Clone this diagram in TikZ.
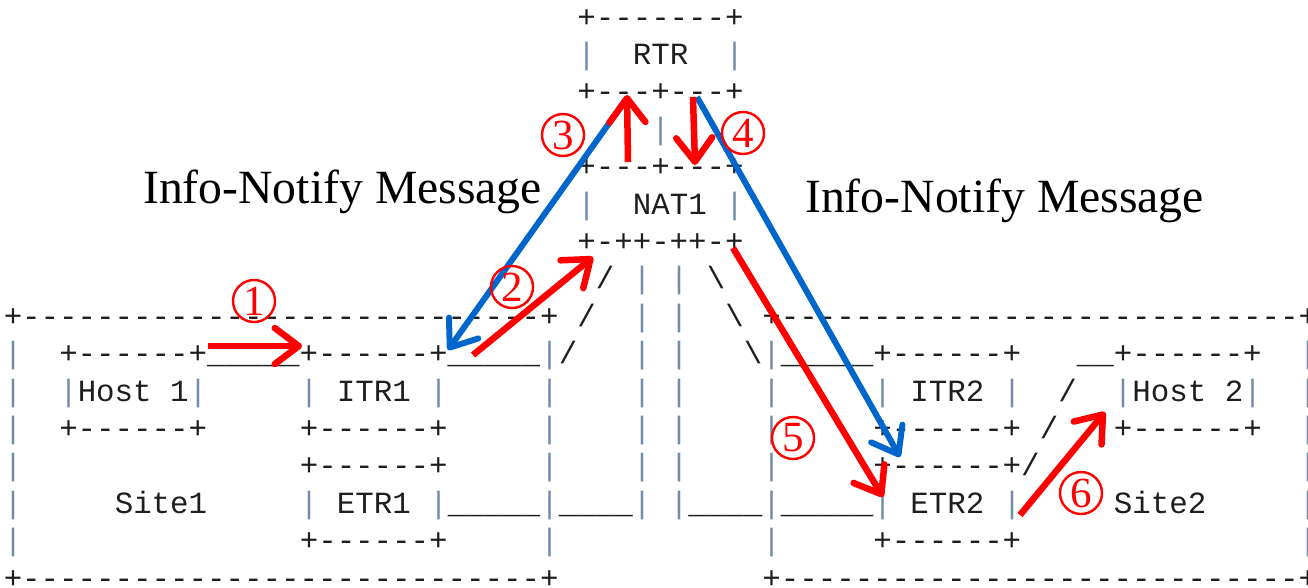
\documentclass[tikz,border=0pt]{standalone}
\usepackage{fontspec}
\setmainfont{Liberation Serif}
\setmonofont{Liberation Mono}
\usetikzlibrary{arrows.meta}
\definecolor{asciigray}{RGB}{30,30,30}
\definecolor{barcol}{RGB}{115,140,170}
\definecolor{arrred}{RGB}{255,0,0}
\definecolor{arrblue}{RGB}{0,102,204}
\newcommand\B{{\color{barcol}|}}
\newcommand\ascfont{\fontsize{30.83}{37}\selectfont\ttfamily}
\newcommand\asc[3]{\node[asc, name=a#1x#2] at ({13+18.5*#2-9.25},{17+37.4*(#1-1)+10}) {#3};}
\newcommand\dashes{----------------------------}
\tikzset{
  asc/.style={anchor=base west, inner sep=0pt, outer sep=0pt, font=\ascfont, text=asciigray},
  redarrow/.style={draw=arrred, line width=6.5pt, -{Straight Barb[length=24pt,width=36pt,round]}},
  bluearrow/.style={draw=arrblue, line width=6pt, -{Straight Barb[length=24pt,width=36pt,round]}},
  circnum/.style={circle, draw=arrred, line width=2.4pt, minimum size=42pt, inner sep=0pt, text=arrred, font=\fontsize{43}{44}\selectfont},
  msglabel/.style={anchor=base west, inner sep=0pt, font=\fontsize{47.7}{50}\selectfont, text=black}
}
\begin{document}
\begin{tikzpicture}[x=1pt,y=-1pt]
\useasboundingbox (0,0) rectangle (1308,587);
% ---------- ASCII art ----------
\asc{1}{31}{+-------+}
\asc{2}{31}{\B~~RTR~~\B}
\asc{3}{31}{+---+---+}
\asc{4}{35}{\B}
\asc{5}{31}{+---+---+}
\asc{6}{31}{\B~~NAT1~\B}
\asc{7}{31}{+-++-++-+}
\asc{8}{32}{/}
\asc{8}{34}{\B}
\asc{8}{36}{\B}
\asc{8}{38}{\textbackslash}
\asc{9}{0}{+\dashes+}
\asc{9}{31}{/}
\asc{9}{34}{\B}
\asc{9}{36}{\B}
\asc{9}{39}{\textbackslash}
\asc{9}{41}{+\dashes+}
\asc{10}{0}{\B}
\asc{10}{3}{+------+\_\_\_\_\_+------+\_\_\_\_\_\B/}
\asc{10}{34}{\B}
\asc{10}{36}{\B}
\asc{10}{40}{\textbackslash\B\_\_\_\_\_+------+}
\asc{10}{58}{\_\_+------+}
\asc{10}{70}{\B}
\asc{11}{0}{\B}
\asc{11}{3}{\B{}Host~1\B}
\asc{11}{16}{\B~ITR1~\B}
\asc{11}{29}{\B}
\asc{11}{34}{\B}
\asc{11}{36}{\B}
\asc{11}{41}{\B}
\asc{11}{47}{\B~ITR2~\B}
\asc{11}{57}{/}
\asc{11}{60}{\B{}Host~2\B}
\asc{11}{70}{\B}
\asc{12}{0}{\B}
\asc{12}{3}{+------+}
\asc{12}{16}{+------+}
\asc{12}{29}{\B}
\asc{12}{34}{\B}
\asc{12}{36}{\B}
\asc{12}{41}{\B}
\asc{12}{47}{+------+}
\asc{12}{56}{/}
\asc{12}{60}{+------+}
\asc{12}{70}{\B}
\asc{13}{0}{\B}
\asc{13}{16}{+------+}
\asc{13}{29}{\B}
\asc{13}{34}{\B}
\asc{13}{36}{\B}
\asc{13}{41}{\B}
\asc{13}{47}{+------+/}
\asc{13}{70}{\B}
\asc{14}{0}{\B}
\asc{14}{6}{Site1}
\asc{14}{16}{\B~ETR1~\B\_\_\_\_\_\B\_\_\_\_\B}
\asc{14}{36}{\B\_\_\_\_\B\_\_\_\_\_\B~ETR2~\B}
\asc{14}{60}{Site2}
\asc{14}{70}{\B}
\asc{15}{0}{\B}
\asc{15}{16}{+------+}
\asc{15}{29}{\B}
\asc{15}{41}{\B}
\asc{15}{47}{+------+}
\asc{15}{70}{\B}
\asc{16}{0}{+\dashes+}
\asc{16}{41}{+\dashes+}
% ---------- labels ----------
\node[msglabel] (msgL) at (143,203) {Info-Notify Message};
\node[msglabel] (msgR) at (805,212) {Info-Notify Message};
% ---------- arrow end points ----------
\coordinate (s1) at (208,346);  \coordinate (e1) at (302,346);
\coordinate (s2) at (473,355);  \coordinate (e2) at (593,257);
\coordinate (rtrL) at (627,98); \coordinate (itr1) at (448,350);
\coordinate (s3) at (628,162);  \coordinate (e3) at (627,95);
\coordinate (s4) at (693,97);   \coordinate (e4) at (695,165);
\coordinate (rtrR) at (697,97); \coordinate (itr2) at (900,457);
\coordinate (s5) at (733,248);  \coordinate (e5) at (883,497);
\coordinate (s6) at (1020,515); \coordinate (e6) at (1105,412);
% ---------- arrows ----------
\draw[bluearrow] (rtrL) -- (itr1);
\draw[bluearrow] (rtrR) -- (itr2);
\draw[redarrow] (s1) -- (e1);
\draw[redarrow] (s2) -- (e2);
\draw[redarrow] (s3) -- (e3);
\draw[redarrow] (s4) -- (e4);
\draw[redarrow] (s5) -- (e5);
\draw[redarrow] (s6) -- (e6);
% ---------- step numbers ----------
\node[circnum] (n1) at (254,301) {1};
\node[circnum] (n2) at (512,287) {2};
\node[circnum] (n3) at (563,135) {3};
\node[circnum] (n4) at (743,133) {4};
\node[circnum] (n5) at (793,438) {5};
\node[circnum] (n6) at (1081,493) {6};
\end{tikzpicture}
\end{document}
